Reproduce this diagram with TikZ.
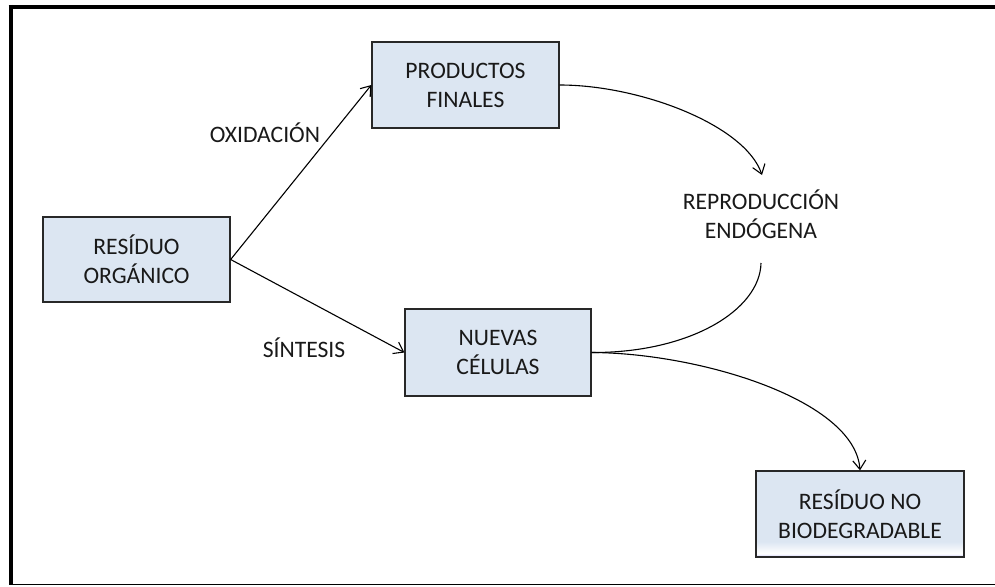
\documentclass[tikz,border=0pt]{standalone}
\usepackage{fontspec}
\setmainfont{Carlito}
\usetikzlibrary{arrows.meta}

\definecolor{boxblue}{RGB}{220,230,242}
\definecolor{boxline}{RGB}{40,40,40}

% soft white band near the lower edge of the last box
\pgfdeclareverticalshading{glowshade}{100bp}{%
  color(0bp)=(boxblue!80!black!20!boxblue);
  color(25bp)=(boxblue!70!blue!50!white);
  color(27bp)=(white);
  color(34bp)=(boxblue);
  color(100bp)=(boxblue)}

\begin{document}
\begin{tikzpicture}[x=1pt,y=-1pt,
  font=\fontsize{23.6}{29}\selectfont,
  procbox/.style={draw=boxline, line width=1.3pt, fill=boxblue,
    align=center, inner sep=0pt, text=black!90},
  flowlabel/.style={align=center, inner sep=0pt, text=black!90},
  flow/.style={line width=1.1pt, -{Straight Barb[length=9pt,width=13pt,line width=1.1pt]}},
  plainflow/.style={line width=1.1pt}]

\useasboundingbox (0,0) rectangle (995,586);

% outer frame
\draw[line width=4pt] (8.5,7) -- (995,7);
\draw[line width=4pt] (10.5,5) -- (10.5,585);
\draw[line width=1.3pt] (10,584.5) -- (995,584.5);

% process boxes
\node[procbox, minimum width=187pt, minimum height=85pt] (ro) at (136.5,259.5) {RESÍDUO\\ORGÁNICO};
\node[procbox, minimum width=187pt, minimum height=86pt] (pf) at (465.5,85) {PRODUCTOS\\FINALES};
\node[procbox, minimum width=186pt, minimum height=87pt] (nc) at (498,352.5) {NUEVAS\\CÉLULAS};
\node[procbox, shading=glowshade, minimum width=208pt, minimum height=86pt] (rnb) at (860,514) {RESÍDUO NO\\BIODEGRADABLE};

% labels
\node[flowlabel] (ox) at (265,133) {OXIDACIÓN};
\node[flowlabel] (si) at (304,348) {SÍNTESIS};
\node[flowlabel] (re) at (761,214) {REPRODUCCIÓN\\ENDÓGENA};

% free ends of the recycling loop
\coordinate (loopin) at (762,175);
\coordinate (loopout) at (761,263);

% connectors
\draw[flow] (ro.east) -- (pf.west);
\draw[flow] (ro.east) -- (nc.west);
\draw[flow] (pf.east) .. controls (640,85) and (745,125) .. (loopin);
\draw[plainflow] (loopout) .. controls (760,310) and (690,353) .. (nc.east);
\draw[flow] (nc.east) .. controls (700,353) and (855,400) .. (rnb.north);

\end{tikzpicture}
\end{document}
